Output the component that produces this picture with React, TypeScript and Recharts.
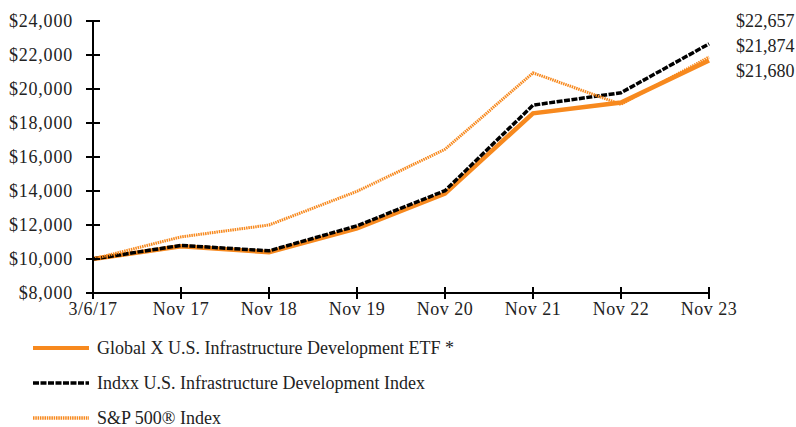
import { LineChart, Line, XAxis, YAxis } from "recharts";

const dates = ["3/6/17", "Nov 17", "Nov 18", "Nov 19", "Nov 20", "Nov 21", "Nov 22", "Nov 23"];
const etfValues = [10000, 10750, 10400, 11800, 13850, 18570, 19200, 21680];
const indexValues = [10000, 10800, 10480, 11950, 14020, 19050, 19780, 22657];
const spValues = [10000, 11300, 12000, 13980, 16450, 20950, 19100, 21874];
const yTicks = [8000, 10000, 12000, 14000, 16000, 18000, 20000, 22000, 24000];

const ORANGE = "#F7891E";
const FONT = '"Liberation Serif", "Times New Roman", serif';

const data = dates.map((d, i) => ({
  date: d,
  etf: etfValues[i],
  index: indexValues[i],
  sp: spValues[i],
}));

const series = [
  { key: "etf", name: "Global X U.S. Infrastructure Development ETF *", color: ORANGE, width: 4.5, dash: undefined },
  { key: "index", name: "Indxx U.S. Infrastructure Development Index", color: "#000000", width: 3.5, dash: "6 1.5" },
  { key: "sp", name: "S&P 500\u00AE Index", color: ORANGE, width: 3, dash: "1.5 0.8" },
];

const fmt = (v: number) => `$${v.toLocaleString("en-US")}`;
const endLabels = [indexValues[7], spValues[7], etfValues[7]].sort((a, b) => b - a);

function YTick(props: any) {
  const { x, y, payload } = props;
  return (
    <g>
      <line x1={x - 7} x2={x + 7} y1={y} y2={y} stroke="#000" strokeWidth={2} />
      <text x={x - 20} y={y} dy={6} textAnchor="end" fontSize={18} letterSpacing={0.8} fontFamily={FONT} fill="#222">
        {fmt(payload.value)}
      </text>
    </g>
  );
}

function XTick(props: any) {
  const { x, y, payload } = props;
  return (
    <g>
      <line x1={x} x2={x} y1={y - 6} y2={y + 6} stroke="#000" strokeWidth={2} />
      <text x={x} y={y + 22} textAnchor="middle" fontSize={18} letterSpacing={0.5} fontFamily={FONT} fill="#222">
        {payload.value}
      </text>
    </g>
  );
}

export default function App() {
  return (
    <div style={{ position: "absolute", left: 0, top: 0, width: 796, height: 427, background: "#fff" }}>
      <LineChart width={796} height={427} data={data} margin={{ top: 21, right: 87, left: 92, bottom: 133 }}>
        <XAxis
          dataKey="date"
          height={1}
          tickSize={0}
          tickMargin={0}
          axisLine={{ stroke: "#000", strokeWidth: 2 }}
          tickLine={false}
          tick={<XTick />}
          interval={0}
        />
        <YAxis
          width={1}
          domain={[8000, 24000]}
          ticks={yTicks}
          tickSize={0}
          tickMargin={0}
          axisLine={{ stroke: "#000", strokeWidth: 2 }}
          tickLine={false}
          tick={<YTick />}
          interval={0}
        />
        {series.map((s) => (
          <Line
            key={s.key}
            dataKey={s.key}
            type="linear"
            stroke={s.color}
            strokeWidth={s.width}
            strokeDasharray={s.dash}
            dot={false}
            isAnimationActive={false}
          />
        ))}
      </LineChart>
      {endLabels.map((v, i) => (
        <div
          key={v}
          style={{
            position: "absolute",
            left: 736,
            top: 10 + i * 25,
            fontFamily: FONT,
            fontSize: 18,
            color: "#222",
            lineHeight: "22px",
          }}
        >
          {fmt(v)}
        </div>
      ))}
      {series.map((s, i) => (
        <div
          key={s.key}
          style={{
            position: "absolute",
            left: 33,
            top: 337 + i * 35,
            display: "flex",
            alignItems: "center",
            fontFamily: FONT,
            fontSize: 18,
            color: "#222",
            whiteSpace: "nowrap",
          }}
        >
          <svg width={56} height={6} style={{ marginRight: 8 }}>
            <line x1={0} x2={56} y1={3} y2={3} stroke={s.color} strokeWidth={s.key === "etf" ? 4 : 3.5} strokeDasharray={s.dash} />
          </svg>
          <span style={{ lineHeight: "22px" }}>{s.name}</span>
        </div>
      ))}
    </div>
  );
}
